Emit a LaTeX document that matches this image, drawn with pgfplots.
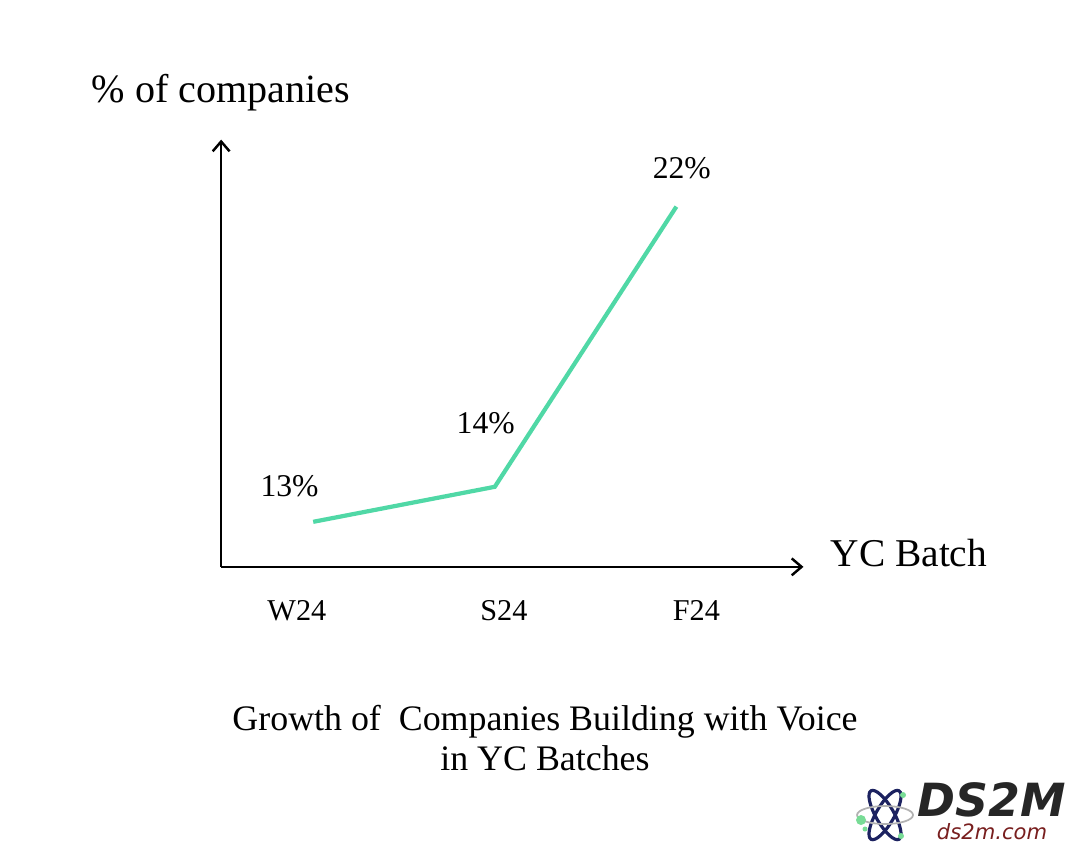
\documentclass[border=0pt]{standalone}
\usepackage{fontspec}
\setmainfont{Liberation Serif}
\newfontfamily\logofont{DejaVu Sans}
\usepackage{pgfplots}
\pgfplotsset{compat=1.18}
\usetikzlibrary{arrows.meta}

\definecolor{voicegreen}{RGB}{80,216,166}
\definecolor{logonavy}{RGB}{28,34,96}
\definecolor{logogreen}{RGB}{120,220,150}
\definecolor{logored}{RGB}{120,30,30}

\begin{document}
\begin{tikzpicture}[x=0.01cm,y=0.01cm]
% page = 1080 x 850 px, 1 px = 0.01cm
\path[use as bounding box] (0,0) rectangle (1080,850);

\begin{axis}[
  at={(2.21cm,2.83cm)}, anchor=south west,
  scale only axis, width=5.82cm, height=4.27cm,
  xmin=-0.507, xmax=2.70,
  ymin=11.714, ymax=23.914,
  axis x line=bottom, axis y line=left,
  axis line style={line width=0.7pt, -{Straight Barb[length=2.8pt,width=4.8pt,line width=0.7pt]}},
  xtick={-0.09,1.05,2.11},
  xticklabels={W24,S24,F24},
  major tick length=0pt,
  xticklabel style={font=\fontsize{8.6}{10}\selectfont, yshift=-6pt},
  ytick=\empty,
  clip=false,
]
\addplot[color=voicegreen, line width=1.2pt] coordinates {
  (0,13) (1,14) (2,22)
};
\node[font=\fontsize{9}{11}\selectfont] at (axis cs:-0.13,14.03) {13\%};
\node[font=\fontsize{9}{11}\selectfont] at (axis cs:0.95,15.83) {14\%};
\node[font=\fontsize{9}{11}\selectfont] at (axis cs:2.03,23.11) {22\%};
\end{axis}

\node[font=\fontsize{11.4}{14}\selectfont] at (221,757) {\% of companies};
\node[font=\fontsize{11.2}{14}\selectfont, anchor=west, inner sep=0pt] at (830,297) {YC Batch};

\node[font=\fontsize{10.2}{11.4}\selectfont, align=center] at (545,112)
  {Growth of \ Companies Building with Voice\\in YC Batches};

% logo
\begin{scope}[shift={(885,35)}]
  \draw[logonavy, line width=0.9pt] (0,0) ellipse [x radius=28, y radius=9, rotate=60];
  \draw[logonavy, line width=0.9pt] (0,0) ellipse [x radius=28, y radius=9, rotate=-60];
  \draw[gray!60, line width=0.5pt] (0,0) ellipse [x radius=28, y radius=9];
  \fill[logogreen] (-24,-5) circle (5);
  \fill[logogreen] (18,20) circle (3);
  \fill[logogreen] (16,-21) circle (3);
  \fill[logogreen] (-20,-14) circle (2.5);
\end{scope}
\node[font=\logofont\bfseries\itshape\fontsize{13}{14}\selectfont, text=black!85] at (992,50) {DS2M};
\node[font=\logofont\itshape\fontsize{6}{7}\selectfont, text=logored] at (992,18) {ds2m.com};
\end{tikzpicture}
\end{document}
